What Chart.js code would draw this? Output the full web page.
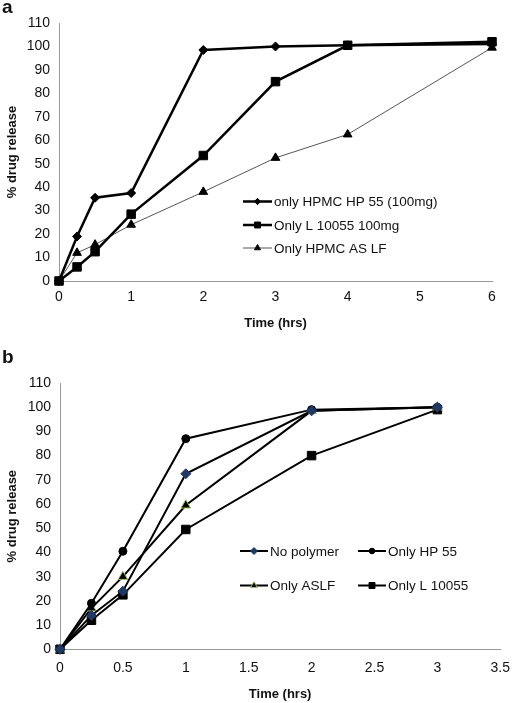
<!DOCTYPE html>
<html>
<head>
<meta charset="utf-8">
<script src="https://cdn.jsdelivr.net/npm/chart.js@4/dist/chart.umd.min.js"></script>
<style>
    html, body { margin: 0; padding: 0; background: #fff; }
    body { width: 520px; height: 703px; position: relative; overflow: hidden; font-family: "Liberation Sans", Arial, sans-serif; }
    .panel { position: absolute; left: 0; width: 520px; }
    .panel-label { position: absolute; left: 2px; font-weight: bold; font-size: 19px; color: #111; }
</style>
</head>
<body>
<div class="panel" id="panelA" style="top:0; height:340px;"><canvas id="chartA"></canvas></div>
<div class="panel" id="panelB" style="top:345px; height:358px;"><canvas id="chartB"></canvas></div>
<div class="panel-label" style="top:-4px;">a</div>
<div class="panel-label" style="top:346px;">b</div>
<script>
// Panel a - release over time (hrs)
const timeA = [0, 0.25, 0.5, 1, 2, 3, 4, 6];
const hp55A = [0, 19, 35.5, 37.5, 98.5, 100, 100.5, 101];
const l10055A = [0, 6, 12.5, 28.5, 53.5, 85, 100.5, 102];
const aslfA = [0, 12, 15.5, 24, 38, 52.5, 62.5, 99.5];
const namesA = ['only HPMC HP 55 (100mg)', 'Only L 10055 100mg', 'Only HPMC AS LF'];

// Panel b
const timeB = [0, 0.25, 0.5, 1, 2, 3];
const noPolymerB = [0, 14, 24, 72.5, 98.5, 100];
const hp55B = [0, 19, 40.5, 87, 99, 100];
const aslfB = [0, 17, 30, 59.5, 98.5, 100];
const l10055B = [0, 12, 22.5, 49.5, 80, 99];
const namesB = ['No polymer', 'Only HP 55', 'Only ASLF', 'Only L 10055'];

// Axis ranges / ticks
const yRange = { min: 0, max: 110, step: 10 };
const xRangeA = { min: 0, max: 6, step: 1 };
const xRangeB = { min: 0, max: 3.5, step: 0.5 };

const FONT = '"Liberation Sans", Arial, sans-serif';
const TEXT = '#111';
const AXIS = '#999';

function toPoints(xs, ys) {
    return xs.map((x, i) => ({ x: x, y: ys[i] }));
}

// Draws legend entries at fixed spots inside the plot
const insideLegend = {
    id: 'insideLegend',
    afterDraw(chart, args, opts) {
        const ctx = chart.ctx;
        ctx.save();
        ctx.font = '13.5px ' + FONT;
        ctx.textBaseline = 'middle';
        ctx.fillStyle = TEXT;
        opts.items.forEach((it, i) => {
            const ds = chart.data.datasets[i];
            ctx.strokeStyle = ds.borderColor;
            ctx.lineWidth = ds.borderWidth;
            ctx.beginPath();
            ctx.moveTo(it.x, it.y);
            ctx.lineTo(it.x + opts.lineLen, it.y);
            ctx.stroke();
            ctx.fillStyle = ds.pointBackgroundColor;
            ctx.strokeStyle = ds.pointBorderColor;
            ctx.lineWidth = ds.pointBorderWidth || 1;
            Chart.helpers.drawPoint(ctx, {
                pointStyle: ds.pointStyle,
                radius: ds.pointRadius * 0.7,
                rotation: 0,
                borderWidth: ds.pointBorderWidth || 1
            }, it.x + opts.lineLen / 2, it.y);
            ctx.fillStyle = TEXT;
            ctx.fillText(ds.label, it.x + opts.lineLen + 2, it.y + 1);
        });
        ctx.restore();
    }
};

function makeScales(xr, yWidth, xHeight, xPad, titlePad) {
    return {
        x: {
            type: 'linear',
            min: xr.min,
            max: xr.max,
            grid: { display: false, drawTicks: false },
            border: { display: true, color: AXIS, width: 1 },
            ticks: {
                stepSize: xr.step,
                padding: xPad,
                color: TEXT,
                font: { family: FONT, size: 14 },
                callback: function(value) { return String(value); }
            },
            title: { display: true, text: 'Time (hrs)', color: TEXT, font: { family: FONT, size: 13, weight: 'bold' }, padding: { top: 0, bottom: titlePad } },
            afterFit(scale) { scale.height = xHeight; }
        },
        y: {
            min: yRange.min,
            max: yRange.max,
            grid: { display: false, drawTicks: false },
            border: { display: true, color: AXIS, width: 1 },
            ticks: { stepSize: yRange.step, padding: 9, color: TEXT, font: { family: FONT, size: 14 } },
            title: { display: true, text: '% drug release', color: TEXT, font: { family: FONT, size: 13, weight: 'bold' }, padding: { top: 5, bottom: 0 } },
            afterFit(scale) { scale.width = yWidth; }
        }
    };
}

function series(label, xs, ys, style) {
    return Object.assign({
        label: label,
        data: toPoints(xs, ys),
        showLine: true,
        tension: 0,
        clip: false,
        borderColor: '#000',
        borderWidth: 2,
        pointBackgroundColor: '#000',
        pointBorderColor: '#000',
        pointBorderWidth: 1
    }, style);
}

function createChartA() {
    const ctx = document.getElementById('chartA');
    return new Chart(ctx, {
        type: 'scatter',
        data: {
            datasets: [
                series(namesA[0], timeA, hp55A, { borderWidth: 2.5, pointStyle: 'rectRot', pointRadius: 4.5 }),
                series(namesA[1], timeA, l10055A, { borderWidth: 2.5, pointStyle: 'rect', pointRadius: 6 }),
                series(namesA[2], timeA, aslfA, { borderColor: '#555', borderWidth: 1, pointStyle: 'triangle', pointRadius: 5 })
            ]
        },
        options: {
            responsive: true,
            maintainAspectRatio: false,
            animation: false,
            layout: { padding: { left: 0, top: 23, right: 28, bottom: 0 } },
            scales: makeScales(xRangeA, 59, 59, 8, 9),
            plugins: {
                legend: { display: false },
                tooltip: { enabled: false },
                insideLegend: {
                    lineLen: 29,
                    items: [{ x: 243, y: 201.5 }, { x: 243, y: 225 }, { x: 243, y: 248 }]
                }
            }
        },
        plugins: [insideLegend]
    });
}

function createChartB() {
    const ctx = document.getElementById('chartB');
    return new Chart(ctx, {
        type: 'scatter',
        data: {
            datasets: [
                series(namesB[0], timeB, noPolymerB, { pointStyle: 'rectRot', pointRadius: 5, pointBackgroundColor: '#1F3864', pointBorderColor: '#1F3864' }),
                series(namesB[1], timeB, hp55B, { pointStyle: 'circle', pointRadius: 4 }),
                series(namesB[2], timeB, aslfB, { pointStyle: 'triangle', pointRadius: 5.5, pointBorderColor: '#9BBB59', pointBorderWidth: 1 }),
                series(namesB[3], timeB, l10055B, { pointStyle: 'rect', pointRadius: 6 })
            ]
        },
        options: {
            responsive: true,
            maintainAspectRatio: false,
            animation: false,
            layout: { padding: { left: 0, top: 38, right: 10, bottom: 0 } },
            scales: makeScales(xRangeB, 60, 53.7, 10, 1),
            plugins: {
                legend: { display: false },
                tooltip: { enabled: false },
                insideLegend: {
                    lineLen: 28,
                    items: [{ x: 240, y: 206 }, { x: 358, y: 206 }, { x: 240, y: 240.5 }, { x: 358, y: 240.5 }]
                }
            }
        },
        plugins: [insideLegend]
    });
}

document.addEventListener('DOMContentLoaded', () => {
    createChartA();
    createChartB();
});
</script>
</body>
</html>
